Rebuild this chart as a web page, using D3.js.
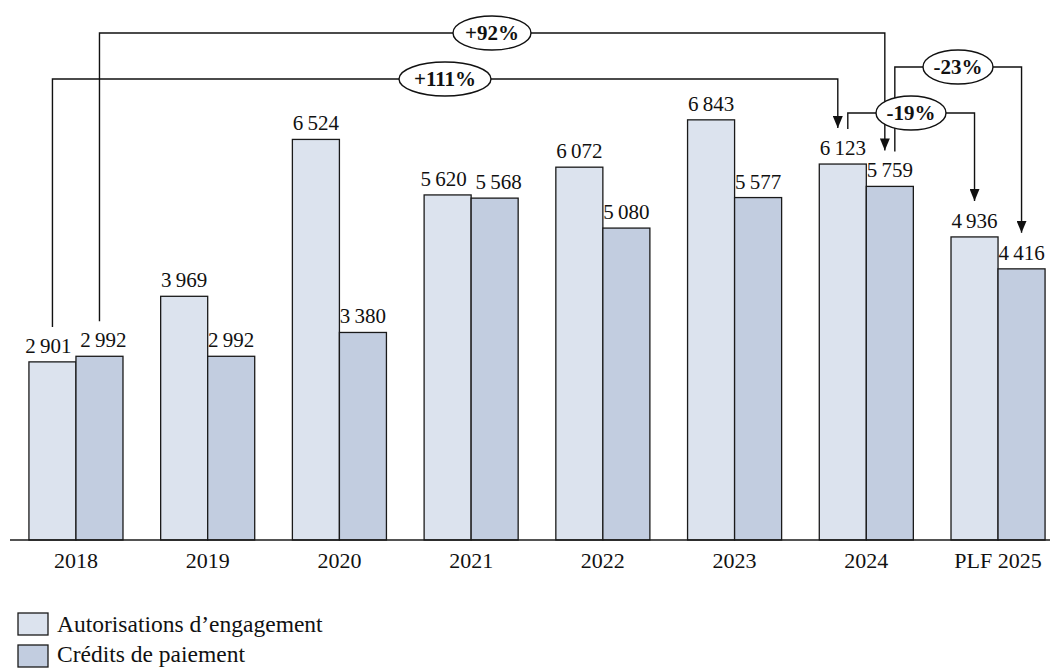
<!DOCTYPE html>
<html><head><meta charset="utf-8">
<script src="https://cdn.jsdelivr.net/npm/d3@7"></script>
<style>
html,body{margin:0;padding:0;background:#fff;}
svg{display:block;font-family:"Palatino Linotype","Book Antiqua",Palatino,"Liberation Serif",serif;}
</style></head>
<body>
<svg id="chart" width="1051" height="668"></svg>
<script>
// ---- data ----
const categories = ["2018","2019","2020","2021","2022","2023","2024","PLF 2025"];
const seriesNames = ["Autorisations d\u2019engagement","Crédits de paiement"];
const ae = [2901,3969,6524,5620,6072,6843,6123,4936];
const cp = [2992,2992,3380,5568,5080,5577,5759,4416];
const annotations = [
  {label:"+92%",  from:["2018",1], to:["2024",1]},
  {label:"+111%", from:["2018",0], to:["2024",0]},
  {label:"-23%",  from:["2024",1], to:["PLF 2025",1]},
  {label:"-19%",  from:["2024",0], to:["PLF 2025",0]}
];

// ---- layout ----
const W=1051,H=668, baseY=540;
const colors=["#dce3ee","#c2cde0"];
const svg=d3.select("#chart");
const fmt=v=>d3.format(",")(v).replace(/,/g,"\u2009");

const x=d3.scaleBand().domain(categories).range([10.1,1063.9]).paddingInner(0.286).paddingOuter(0.143);
const xs=d3.scaleBand().domain([0,1]).range([0,x.bandwidth()]);
const y=d3.scaleLinear().domain([0,7000]).range([baseY,baseY-7000*0.0614]);

const rows=categories.map((c,i)=>({c,vals:[ae[i],cp[i]]}));

// bars
const g=svg.append("g");
rows.forEach(r=>{
  r.vals.forEach((v,s)=>{
    g.append("rect").attr("x",x(r.c)+xs(s)).attr("y",y(v))
      .attr("width",xs.bandwidth()).attr("height",baseY-y(v))
      .attr("fill",colors[s]).attr("stroke","#1a1a1a").attr("stroke-width",1.3);
  });
  const close=Math.abs(y(r.vals[0])-y(r.vals[1]))<20;
  r.vals.forEach((v,s)=>{
    const nudge=close?(s===0?-4:4):0;
    g.append("text").attr("x",x(r.c)+xs(s)+xs.bandwidth()/2+nudge).attr("y",y(v)-9)
      .attr("text-anchor","middle").attr("font-size",21).attr("fill","#111").text(fmt(v));
  });
});

// axis
const ax=svg.append("g").attr("transform",`translate(0,${baseY})`)
  .call(d3.axisBottom(x).tickSize(0).tickPadding(12));
ax.attr("font-family",null).attr("font-size",null);
ax.select(".domain").attr("stroke","#1a1a1a").attr("stroke-width",1.6).attr("d",`M10,0H1050`);
ax.selectAll("text").attr("font-size",22).attr("fill","#111");

// annotations
const levels={"+92%":33,"+111%":79,"-23%":67,"-19%":113};
const ellW={"+92%":39,"+111%":46,"-23%":35,"-19%":35};
const labX={"+92%":492,"+111%":445,"-23%":958,"-19%":911};
const defs=svg.append("defs");
defs.append("marker").attr("id","arr").attr("viewBox","0 0 12 10").attr("refX",12).attr("refY",5)
  .attr("markerWidth",12).attr("markerHeight",10).attr("markerUnits","userSpaceOnUse").attr("orient","auto")
  .append("path").attr("d","M0,0L12,5L0,10Z").attr("fill","#111");
const cx=(c,s)=>x(c)+xs(s)+xs.bandwidth()/2;
const topOf=(c,s)=>y(rows[categories.indexOf(c)].vals[s]);
const an=svg.append("g");
annotations.forEach(a=>{
  const fromIsStart=a.from[0]===categories[0];
  const x0=cx(a.from[0],a.from[1])+(fromIsStart?0:5);
  const toLast=a.to[0]===categories[categories.length-1];
  const x1=cx(a.to[0],a.to[1])+(toLast?0:-5);
  const y0=topOf(a.from[0],a.from[1])-35;
  const y1=topOf(a.to[0],a.to[1])-36;
  const L=levels[a.label];
  an.append("path").attr("d",`M${x0},${y0}V${L}H${x1}V${y1}`)
    .attr("fill","none").attr("stroke","#111").attr("stroke-width",1.4)
    .attr("marker-end","url(#arr)");
  an.append("ellipse").attr("cx",labX[a.label]).attr("cy",L).attr("rx",ellW[a.label]).attr("ry",17)
    .attr("fill","#fff").attr("stroke","#111").attr("stroke-width",1.4);
  an.append("text").attr("x",labX[a.label]).attr("y",L+7).attr("text-anchor","middle")
    .attr("font-size",21).attr("font-weight","bold").attr("fill","#111").text(a.label);
});

// legend
const lg=svg.append("g");
seriesNames.forEach((n,i)=>{
  lg.append("rect").attr("x",18).attr("y",613+i*32).attr("width",30).attr("height",22)
    .attr("fill",colors[i]).attr("stroke","#1a1a1a").attr("stroke-width",1.3);
  lg.append("text").attr("x",57).attr("y",632+i*30).attr("font-size",23.5).attr("fill","#111").text(n);
});
</script>
</body></html>
